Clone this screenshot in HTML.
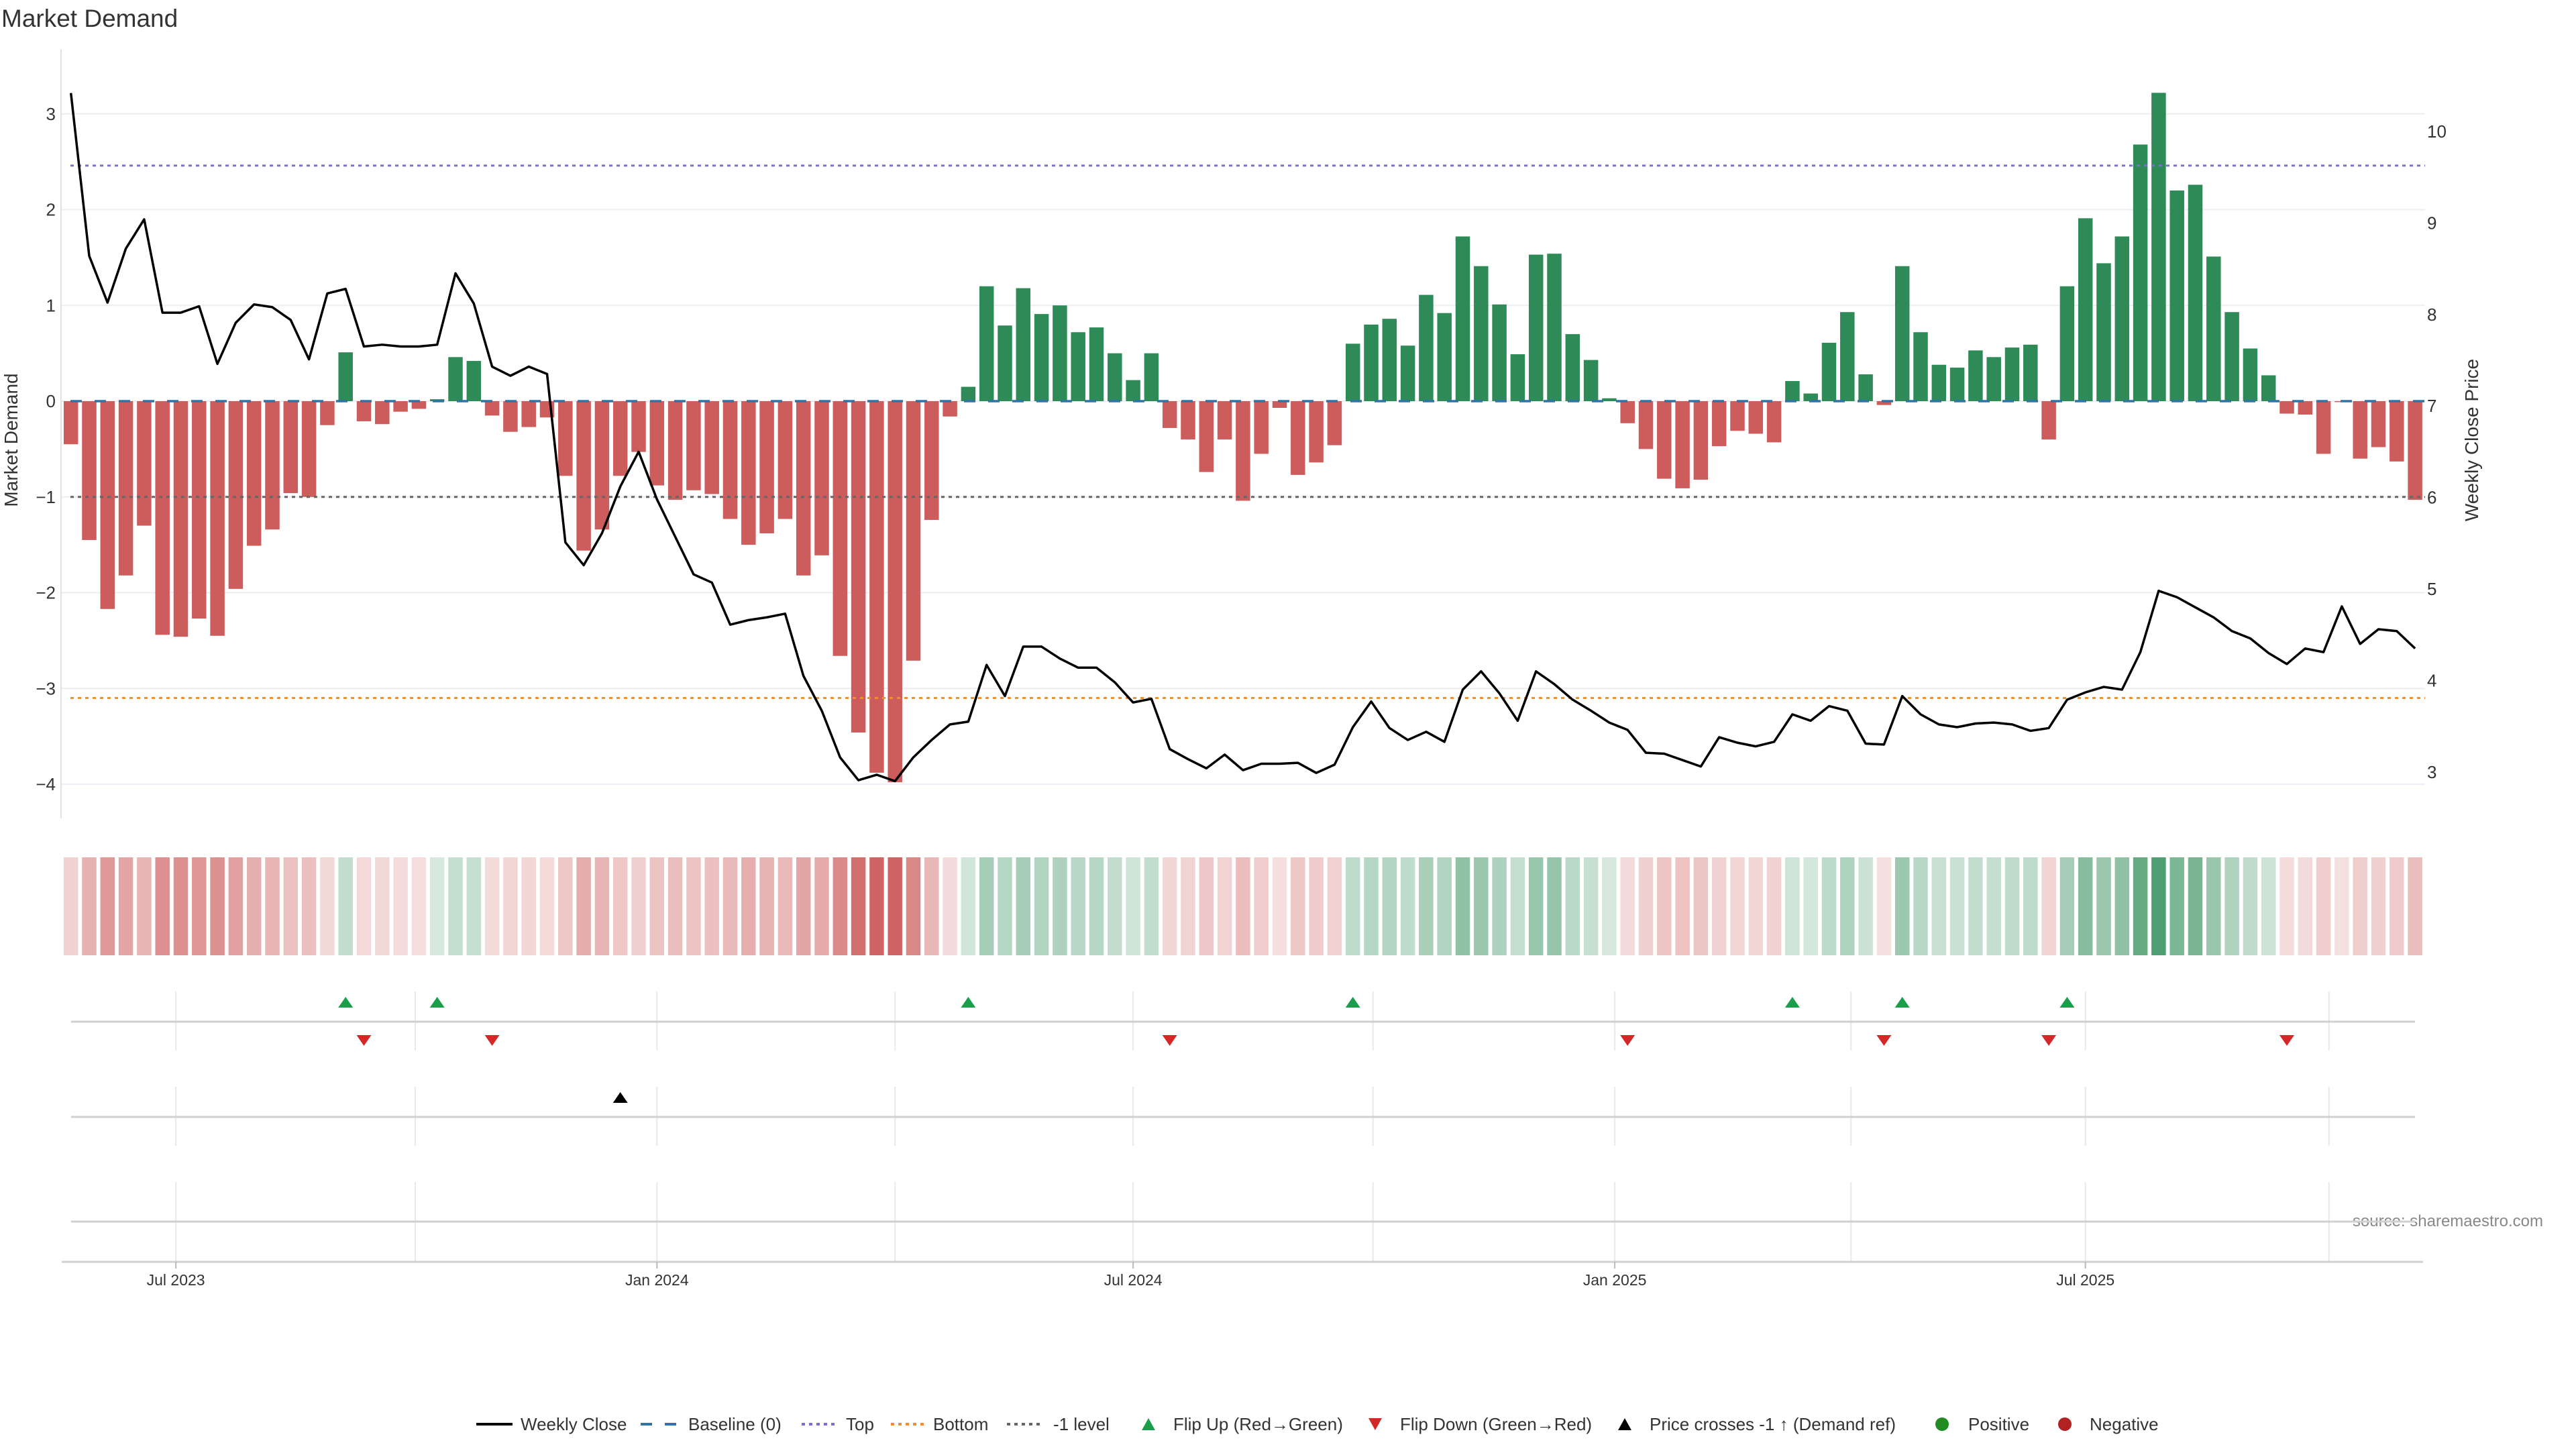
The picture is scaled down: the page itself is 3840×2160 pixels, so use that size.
<!DOCTYPE html>
<html><head><meta charset="utf-8"><title>Market Demand</title>
<style>
html,body{margin:0;padding:0;background:#fff;}
svg{display:block;font-family:"Liberation Sans",sans-serif;}
</style></head>
<body>
<svg id="chart" width="3840" height="2160" viewBox="0 0 3840 2160" xmlns="http://www.w3.org/2000/svg">
<text x="2" y="40" font-size="37" fill="#333">Market Demand</text>
<text transform="translate(26,656) rotate(-90)" text-anchor="middle" font-size="28" fill="#333">Market Demand</text>
<text transform="translate(3694,656) rotate(-90)" text-anchor="middle" font-size="28" fill="#333">Weekly Close Price</text>
<text x="3791" y="1828" text-anchor="end" font-size="24" fill="#888">source: sharemaestro.com</text>
<g id="grid"></g>
<g id="heat"></g>
<g id="bars"></g>
<g id="refs"></g>
<g id="price"></g>
<g id="events"></g>
<g id="axes"></g>
<g id="legend"></g>
</svg>
<script>
const demand = [-0.45,-1.45,-2.17,-1.82,-1.30,-2.44,-2.46,-2.27,-2.45,-1.96,-1.51,-1.34,-0.96,-1.00,-0.25,0.51,-0.21,-0.24,-0.11,-0.08,0.02,0.46,0.42,-0.15,-0.32,-0.27,-0.17,-0.78,-1.56,-1.34,-0.78,-0.53,-0.88,-1.03,-0.93,-0.97,-1.23,-1.50,-1.38,-1.23,-1.82,-1.61,-2.66,-3.46,-3.88,-3.98,-2.71,-1.24,-0.16,0.15,1.20,0.79,1.18,0.91,1.00,0.72,0.77,0.50,0.22,0.50,-0.28,-0.40,-0.74,-0.40,-1.04,-0.55,-0.07,-0.77,-0.64,-0.46,0.60,0.80,0.86,0.58,1.11,0.92,1.72,1.41,1.01,0.49,1.53,1.54,0.70,0.43,0.03,-0.23,-0.50,-0.81,-0.91,-0.82,-0.47,-0.31,-0.34,-0.43,0.21,0.08,0.61,0.93,0.28,-0.04,1.41,0.72,0.38,0.35,0.53,0.46,0.56,0.59,-0.40,1.20,1.91,1.44,1.72,2.68,3.22,2.20,2.26,1.51,0.93,0.55,0.27,-0.13,-0.14,-0.55,-0.01,-0.60,-0.48,-0.63,-1.03];
const closePrice = [10.42,8.64,8.13,8.72,9.04,8.02,8.02,8.09,7.46,7.91,8.11,8.08,7.94,7.51,8.23,8.28,7.65,7.67,7.65,7.65,7.67,8.45,8.12,7.43,7.33,7.43,7.35,5.51,5.26,5.61,6.12,6.50,5.98,5.57,5.16,5.07,4.61,4.66,4.69,4.73,4.05,3.67,3.16,2.91,2.97,2.90,3.16,3.35,3.52,3.55,4.17,3.83,4.37,4.37,4.24,4.14,4.14,3.98,3.76,3.80,3.25,3.14,3.04,3.19,3.02,3.09,3.09,3.10,2.99,3.08,3.49,3.77,3.48,3.35,3.44,3.33,3.90,4.10,3.86,3.56,4.10,3.96,3.79,3.67,3.54,3.46,3.21,3.20,3.13,3.06,3.38,3.32,3.28,3.33,3.63,3.56,3.72,3.67,3.31,3.30,3.83,3.63,3.52,3.49,3.53,3.54,3.52,3.45,3.48,3.79,3.87,3.93,3.90,4.31,4.98,4.91,4.80,4.69,4.54,4.46,4.30,4.18,4.35,4.31,4.81,4.40,4.56,4.54,4.35];
const topLevel = 2.46;
const bottomLevel = -3.10;
const minusOneLevel = -1;
const leftTicks = [-4,-3,-2,-1,0,1,2,3];
const rightTicks = [3,4,5,6,7,8,9,10];
const dateLabels = ["Jul 2023","Jan 2024","Jul 2024","Jan 2025","Jul 2025"];
const dateWeeks = [6.73,33.0,59.0,85.3,111.0];
const quarterWeeks = [6.73,19.8,33.0,46.0,59.0,72.1,85.3,98.2,111.0,124.3];
const priceCrossWeeks = [31];

const NS="http://www.w3.org/2000/svg";
function mk(tag,attrs,parent){const e=document.createElementNS(NS,tag);for(const k in attrs)e.setAttribute(k,attrs[k]);parent.appendChild(e);return e;}
const xb = i => 105.7 + 27.3*i;
const xw = w => 105.7 + 27.3*(w-1);
const yL = v => 598 - 142.75*v;
const yR = p => 196 + (10-p)*136.4;
const BW = 21.5;
const G = id => document.getElementById(id);

const grid=G('grid');
leftTicks.forEach(t=>{
  const l=mk('line',{x1:91,x2:3615,y1:yL(t),y2:yL(t),stroke:'#eceef3','stroke-width':2},grid);
  
  
});
[[1478,1566],[1620,1708],[1762,1881]].forEach(seg=>{
  quarterWeeks.forEach(w=>{
    const l=mk('line',{x1:xw(w),x2:xw(w),y1:seg[0],y2:seg[1],stroke:'#e6e9f0','stroke-width':2},grid);
    
    
  });
});

const heat=G('heat');
demand.forEach((v,i)=>{
  const a=Math.min(0.95,0.19+0.2*Math.abs(v));
  const r=mk('rect',{x:xb(i)-BW/2,y:1278,width:BW,height:146,fill:v>=0?'#2e8b57':'#cd5c5c','fill-opacity':a},heat);
  
  
});

const bars=G('bars');
demand.forEach((v,i)=>{
  const y0=yL(0), y1=yL(v);
  const r=mk('rect',{x:xb(i)-BW/2,y:Math.min(y0,y1),width:BW,height:Math.max(1,Math.abs(y1-y0)),fill:v>=0?'#2e8b57':'#cd5c5c'},bars);
  
  
});

const refs=G('refs');
function ref(v,color,dash,name,w){
  const l=mk('line',{x1:105,x2:3615,y1:yL(v),y2:yL(v),stroke:color,'stroke-width':w||3,'stroke-dasharray':dash},refs);
  
  
}
ref(topLevel,'#7b6fd6','5 6','top-line');
ref(bottomLevel,'#f28e2b','5 6','bottom-line');
ref(minusOneLevel,'#666','5 6','minus-one-line');
ref(0,'#2f74a8','17 19','baseline-line',3.5);

const price=G('price');
const pl=mk('polyline',{points:closePrice.map((p,i)=>xb(i)+','+yR(p)).join(' '),fill:'none',stroke:'#000','stroke-width':3.5,'stroke-linejoin':'round'},price);



const ev=G('events');
[1523,1665,1821].forEach(y=>{
  const l=mk('line',{x1:106,x2:3600,y1:y,y2:y,stroke:'#d0d0d0','stroke-width':3},ev);
  
  
});
function tri(x,y,up,color,name){
  const p=up?`${x-11},${y+8} ${x+11},${y+8} ${x},${y-8}`:`${x-11},${y-8} ${x+11},${y-8} ${x},${y+8}`;
  const t=mk('polygon',{points:p,fill:color},ev);
  
  
}
for(let i=1;i<demand.length;i++){
  if(demand[i-1]<0 && demand[i]>=0) tri(xb(i),1494,true,'#1a9e4a','flip-up-marker');
  if(demand[i-1]>=0 && demand[i]<0) tri(xb(i),1551,false,'#d62728','flip-down-marker');
}
priceCrossWeeks.forEach(w=>tri(xw(w),1636,true,'#000','price-cross-marker'));

const ax=G('axes');
const la=mk('line',{x1:91,x2:91,y1:73,y2:1220,stroke:'#e2e2e2','stroke-width':2},ax);


const ba=mk('line',{x1:92,x2:3612,y1:1881,y2:1881,stroke:'#d0d0d0','stroke-width':3},ax);


leftTicks.forEach(t=>{
  const tx=mk('text',{x:83,y:yL(t)+9,'text-anchor':'end','font-size':26,fill:'#333'},ax);
  tx.textContent=(t<0?'\u2212'+Math.abs(t):String(t));
  
  
});
rightTicks.forEach(t=>{
  const tx=mk('text',{x:3618,y:yR(t)+9,'font-size':26,fill:'#333'},ax);
  tx.textContent=String(t);
  
  
});
dateLabels.forEach((d,k)=>{
  const x=xw(dateWeeks[k]);
  const tk=mk('line',{x1:x,x2:x,y1:1881,y2:1891,stroke:'#bbb','stroke-width':2},ax);
  
  
  const tx=mk('text',{x:x,y:1916,'text-anchor':'middle','font-size':23,fill:'#333'},ax);
  tx.textContent=d;
  
  
});

const lg=G('legend'), LY=2123;
function ltext(x,s){const t=mk('text',{x:x,y:LY+9,'font-size':26,fill:'#333'},lg);t.textContent=s;}
function lline(x,color,dash,w){const l=mk('line',{x1:x,x2:x+54,y1:LY,y2:LY,stroke:color,'stroke-width':w,'stroke-dasharray':dash},lg);}
lline(710,'#000','none',4); ltext(776,'Weekly Close');
lline(955,'#2f74a8','17 19',4); ltext(1026,'Baseline (0)');
lline(1195,'#7b6fd6','5 6',4); ltext(1261,'Top');
lline(1328,'#f28e2b','5 6',4); ltext(1391,'Bottom');
lline(1501,'#666','5 6',4); ltext(1570,'-1 level');
function ltri(x,up,color){const p=up?`${x-10},${LY+9} ${x+10},${LY+9} ${x},${LY-9}`:`${x-10},${LY-9} ${x+10},${LY-9} ${x},${LY+9}`;const t=mk('polygon',{points:p,fill:color},lg);}
ltri(1712,true,'#1a9e4a'); ltext(1749,'Flip Up (Red\u2192Green)');
ltri(2050,false,'#d62728'); ltext(2087,'Flip Down (Green\u2192Red)');
ltri(2422,true,'#000'); ltext(2459,'Price crosses -1 \u2191 (Demand ref)');
function ldot(x,color){const c=mk('circle',{cx:x,cy:LY,r:10,fill:color},lg);}
ldot(2895,'#228b22'); ltext(2934,'Positive');
ldot(3078,'#b22222'); ltext(3115,'Negative');
</script>
</body></html>
